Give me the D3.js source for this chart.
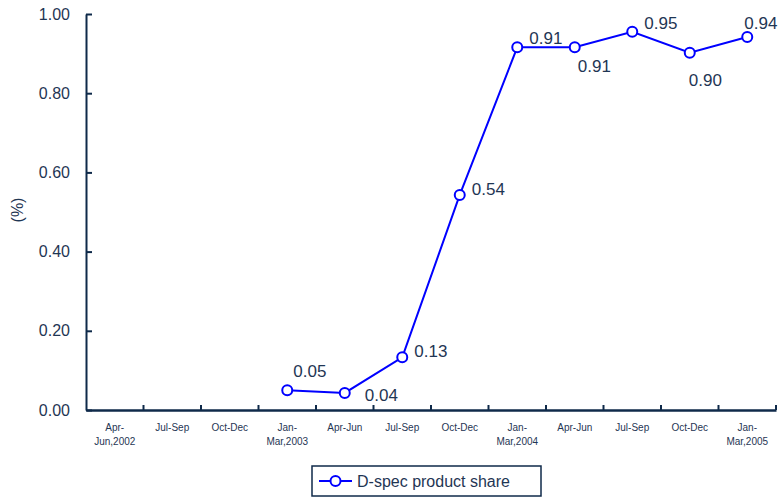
<!DOCTYPE html>
<html><head><meta charset="utf-8">
<script src="https://cdn.jsdelivr.net/npm/d3@7"></script>
<style>body{margin:0;background:#fff}svg{display:block}text{font-family:"Liberation Sans",Arial,sans-serif}</style>
</head><body><svg id="c" width="780" height="498"></svg>
<script>
const categories = [["Apr-","Jun,2002"],["Jul-Sep"],["Oct-Dec"],["Jan-","Mar,2003"],["Apr-Jun"],["Jul-Sep"],["Oct-Dec"],["Jan-","Mar,2004"],["Apr-Jun"],["Jul-Sep"],["Oct-Dec"],["Jan-","Mar,2005"]];
const values = [null,null,null,0.05,0.043,0.133,0.543,0.916,0.916,0.955,0.902,0.942];
const labels = [null,null,null,"0.05","0.04","0.13","0.54","0.91","0.91","0.95","0.90","0.94"];
const labelPos = [null,null,null,"ur","br","r","r","ur2","b1","ur2","b2","u"];
const yTicks = [0,0.2,0.4,0.6,0.8,1.0];
const seriesName = "D-spec product share";

const svg = d3.select("#c");
const navy = "#0f2a4a", txt = "#1f3654", blue = "#0000ff";
const L = 86, R = 776, T = 14, B = 410;
const x = d3.scaleBand().domain(d3.range(categories.length)).range([L,R]);
const y = d3.scaleLinear().domain([0,1]).range([B,T]);

// y axis
const ya = svg.append("g").attr("transform",`translate(${L},0)`)
  .call(d3.axisLeft(y).tickValues(yTicks).tickFormat(d3.format(".2f")).tickSizeInner(-6).tickSizeOuter(0).tickPadding(16));
ya.select(".domain").attr("stroke",navy).attr("stroke-width",2);
ya.selectAll(".tick line").attr("stroke",navy).attr("stroke-width",2);
ya.selectAll(".tick text").attr("fill",txt).style("font-size","16px");

// x axis
const xa = svg.append("g").attr("transform",`translate(0,${B})`)
  .call(d3.axisBottom(x).tickValues([]).tickSizeOuter(0));
xa.select(".domain").attr("stroke",navy).attr("stroke-width",2.5);
const edges = d3.range(1,categories.length+1).map(i => L + i*x.bandwidth());
xa.selectAll(".edge").data(edges).enter().append("line")
  .attr("x1",d=>d).attr("x2",d=>d).attr("y1",0).attr("y2",-5)
  .attr("stroke",navy).attr("stroke-width",2);
categories.forEach((c,i)=>{
  const t = xa.append("text").attr("x",x(i)+x.bandwidth()/2).attr("y",21)
    .attr("text-anchor","middle").attr("fill",txt).style("font-size","10px");
  c.forEach((s,j)=>t.append("tspan").attr("x",x(i)+x.bandwidth()/2).attr("dy",j?14:0).text(s));
});

// y title
svg.append("text").attr("transform","translate(23,210) rotate(-90)").attr("text-anchor","middle")
  .attr("fill",txt).style("font-size","16px").text("(%)");

// line
const pts = values.map((v,i)=>({v,i})).filter(d=>d.v!==null);
const cx = d => x(d.i)+x.bandwidth()/2;
svg.append("path").datum(pts)
  .attr("d",d3.line().x(cx).y(d=>y(d.v)))
  .attr("fill","none").attr("stroke",blue).attr("stroke-width",2);
svg.selectAll("circle.pt").data(pts).enter().append("circle")
  .attr("cx",cx).attr("cy",d=>y(d.v)).attr("r",5)
  .attr("fill","#fff").attr("stroke",blue).attr("stroke-width",2);

// labels (offsets to left edge / baseline)
const off = {ur:[6,-13],br:[20,8],r:[12,0],ur2:[12,-3],b1:[3,25],b2:[-1,33],u:[-3,-8]};
svg.selectAll("text.lbl").data(pts).enter().append("text")
  .attr("x",d=>cx(d)+off[labelPos[d.i]][0])
  .attr("y",d=>y(d.v)+off[labelPos[d.i]][1])
  .attr("fill",txt).style("font-size","17px")
  .text(d=>labels[d.i]);

// legend
const lg = svg.append("g");
lg.append("rect").attr("x",312).attr("y",466).attr("width",229).attr("height",30)
  .attr("fill","#fff").attr("stroke",navy).attr("stroke-width",1.5);
lg.append("line").attr("x1",319).attr("x2",352).attr("y1",481).attr("y2",481).attr("stroke",blue).attr("stroke-width",2);
lg.append("circle").attr("cx",335.5).attr("cy",481).attr("r",5).attr("fill","#fff").attr("stroke",blue).attr("stroke-width",2);
lg.append("text").attr("x",357).attr("y",487).attr("fill",txt).style("font-size","16px").text(seriesName);
</script></body></html>
